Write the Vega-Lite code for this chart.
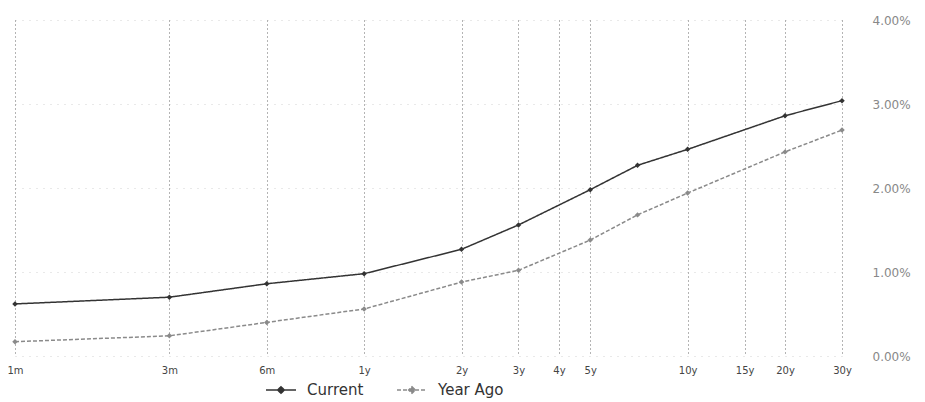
{
  "$schema": "https://vega.github.io/schema/vega-lite/v6.json",
  "width": 827,
  "height": 336,
  "autosize": {"type": "none"},
  "padding": {"left": 15, "top": 20, "right": 83, "bottom": 46},
  "background": "white",
  "config": {
    "view": {"stroke": null},
    "font": "DejaVu Sans"
  },
  "data": {
    "values": [
      {"series": "Current", "months": 1, "yield": 0.62},
      {"series": "Current", "months": 3, "yield": 0.70},
      {"series": "Current", "months": 6, "yield": 0.86},
      {"series": "Current", "months": 12, "yield": 0.98},
      {"series": "Current", "months": 24, "yield": 1.27},
      {"series": "Current", "months": 36, "yield": 1.56},
      {"series": "Current", "months": 60, "yield": 1.98},
      {"series": "Current", "months": 84, "yield": 2.27},
      {"series": "Current", "months": 120, "yield": 2.46},
      {"series": "Current", "months": 240, "yield": 2.86},
      {"series": "Current", "months": 360, "yield": 3.04},
      {"series": "Year Ago", "months": 1, "yield": 0.17},
      {"series": "Year Ago", "months": 3, "yield": 0.24},
      {"series": "Year Ago", "months": 6, "yield": 0.40},
      {"series": "Year Ago", "months": 12, "yield": 0.56},
      {"series": "Year Ago", "months": 24, "yield": 0.88},
      {"series": "Year Ago", "months": 36, "yield": 1.02},
      {"series": "Year Ago", "months": 60, "yield": 1.38},
      {"series": "Year Ago", "months": 84, "yield": 1.68},
      {"series": "Year Ago", "months": 120, "yield": 1.94},
      {"series": "Year Ago", "months": 240, "yield": 2.43},
      {"series": "Year Ago", "months": 360, "yield": 2.69}
    ]
  },
  "encoding": {
    "x": {
      "field": "months",
      "type": "quantitative",
      "scale": {"type": "log", "domain": [1, 360], "nice": false},
      "axis": {
        "title": null,
        "values": [1, 3, 6, 12, 24, 36, 48, 60, 120, 180, 240, 360],
        "labelExpr": "datum.value < 12 ? datum.value + 'm' : (datum.value / 12) + 'y'",
        "grid": true,
        "gridDash": [1, 3],
        "gridColor": "#444",
        "gridOpacity": 0.8,
        "domain": false,
        "ticks": false,
        "labelPadding": 9,
        "labelFontSize": 10,
        "labelColor": "#444",
        "labelFlush": false
      }
    },
    "y": {
      "field": "yield",
      "type": "quantitative",
      "scale": {"domain": [0, 4], "nice": false},
      "axis": {
        "title": null,
        "orient": "right",
        "values": [0, 1, 2, 3, 4],
        "labelExpr": "format(datum.value, '.2f') + '%'",
        "grid": true,
        "gridDash": [1, 6],
        "gridColor": "#aaa",
        "gridOpacity": 0.5,
        "domain": false,
        "ticks": false,
        "labelPadding": 30,
        "labelFontSize": 12,
        "labelColor": "#888"
      }
    },
    "color": {
      "field": "series",
      "type": "nominal",
      "scale": {"domain": ["Current", "Year Ago"], "range": ["#333333", "#8a8a8a"]},
      "legend": {
        "title": null,
        "orient": "none",
        "direction": "horizontal",
        "legendX": 250,
        "legendY": 354,
        "symbolType": "M-1,0L1,0M0,-0.22L0.22,0L0,0.22L-0.22,0Z",
        "symbolSize": 900,
        "symbolStrokeWidth": 1.5,
        "labelFontSize": 15,
        "labelColor": "#333",
        "columnPadding": 30,
        "labelOffset": 10
      }
    }
  },
  "layer": [
    {
      "mark": {"type": "line", "strokeWidth": 1.5},
      "encoding": {
        "strokeDash": {
          "field": "series",
          "type": "nominal",
          "scale": {"domain": ["Current", "Year Ago"], "range": [[1, 0], [4, 2]]},
          "legend": null
        }
      }
    },
    {
      "mark": {"type": "point", "shape": "diamond", "filled": true, "size": 30, "opacity": 1}
    }
  ]
}
